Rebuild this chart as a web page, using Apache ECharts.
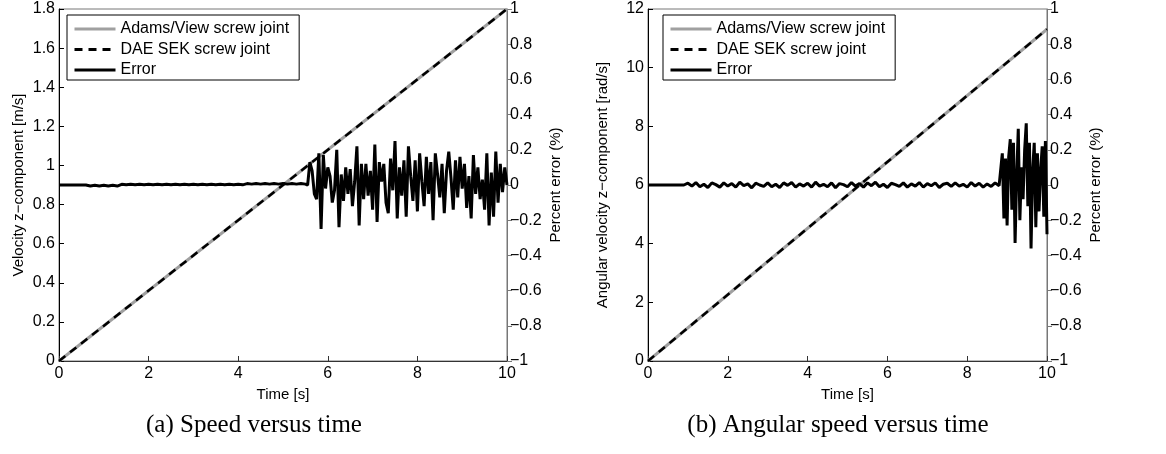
<!DOCTYPE html>
<html>
<head>
<meta charset="utf-8">
<script src="https://cdn.jsdelivr.net/npm/echarts@6/dist/echarts.min.js"></script>
<style>
  html, body { margin: 0; padding: 0; background: #fff; }
  #chart { width: 1166px; height: 454px; }
</style>
</head>
<body>
<div id="chart"></div>
<script>
// straight runs: time end points and the two simulated curves
const timeEnds = [0, 10];
const speedAdams = [0, 1.8];
const speedDae = [0, 1.8];
const angAdams = [0, 11.31];
const angDae = [0, 11.31];

// percent error, speed plot: slow part t = 0..5.5 step 0.1, fast part t = 5.55..10 step 0.05
const errSpeedSlow = [
  0, 0, 0, 0, 0, 0, 0,
  -0.006, -0.002, -0.006, -0.002, -0.006, -0.002, -0.006,
  0.004, 0.001, 0.004, 0.001, 0.004, 0.001, 0.004, 0.001, 0.004, 0.001, 0.004, 0.001, 0.004, 0.001,
  0.004, 0.001, 0.004, 0.001, 0.004, 0.001, 0.004, 0.001, 0.004, 0.001, 0.004, 0.001, 0.004, 0.001,
  0.008, 0.005, 0.008, 0.005, 0.008, 0.005, 0.008, 0.005, 0.008, 0.005, 0.008, 0.005, 0.008, 0.005
];
const errSpeedFast = [
  0.00, 0.13, 0.08, -0.05, -0.08, 0.18, -0.25, 0.17, -0.02, 0.10,
  0.05, -0.10, -0.03, 0.20, -0.24, 0.06, -0.09, 0.10, -0.05, 0.09,
  -0.12, 0.02, 0.22, -0.23, 0.12, -0.08, 0.12, -0.06, 0.08, -0.14,
  0.23, -0.21, 0.13, 0.02, 0.12, -0.10, -0.16, 0.15, -0.03, 0.25,
  -0.19, 0.10, -0.06, 0.14, -0.18, 0.22, 0.05, -0.09, 0.14, -0.15,
  0.18, 0.02, -0.12, 0.16, -0.05, 0.13, -0.20, 0.18, 0.06, -0.07,
  0.12, -0.16, 0.08, 0.19, 0.04, -0.14, 0.14, -0.07, 0.16, -0.02,
  0.12, -0.13, 0.05, -0.19, 0.17, -0.05, 0.10, -0.08, 0.03, -0.14,
  0.18, -0.23, 0.07, -0.18, 0.19, -0.10, 0.12, -0.04, 0.10, 0.00
];

// percent error, angular plot: slow part t = 0..8.8 step 0.1, fast part t = 8.84..10 step 0.04
const errAngSlow = [
  0, 0, 0, 0, 0, 0, 0, 0, 0, 0,
  0.010, -0.006, 0.014, -0.010, 0.004, -0.014, 0.012, 0.002, -0.012, 0.012,
  -0.006, 0.008, -0.012, 0.016, -0.004, 0.006, -0.016, 0.010, 0.000, -0.008,
  0.012, -0.010, 0.004, -0.014, 0.012, -0.002, 0.014, -0.012, 0.006, -0.006,
  0.010, -0.012, 0.016, -0.006, 0.004, -0.010, 0.012, -0.016, 0.008, 0.002,
  -0.010, 0.014, -0.006, 0.008, -0.012, 0.012, -0.004, 0.016, -0.010, 0.004,
  -0.014, 0.010, 0.002, -0.008, 0.012, -0.012, 0.006, -0.006, 0.014, -0.012,
  0.008, -0.004, 0.012, -0.014, 0.004, 0.010, -0.008, 0.012, -0.006, 0.004,
  -0.012, 0.014, -0.006, 0.010, -0.012, 0.006, -0.008, 0.012, -0.004
];
const errAngFast = [
  0.00, 0.18, -0.19, 0.15, -0.23, 0.16, 0.26, -0.14, 0.24, -0.33,
  0.05, 0.32, -0.20, 0.10, -0.08, 0.20, 0.35, -0.12, 0.24, -0.36,
  0.08, 0.24, -0.24, 0.18, -0.15, 0.08, 0.22, -0.18, 0.25, -0.28
];

const seriesNames = ['Adams/View screw joint', 'DAE SEK screw joint', 'Error'];

// pair a sampled run with its time grid
const seg = (t0, dt, vals) => vals.map((v, i) => [+(t0 + i * dt).toFixed(3), v]);
const pairs = (ts, vs) => ts.map((t, i) => [t, vs[i]]);

const font = 'Liberation Sans';
const tickFmt = v => String(Math.round(v * 10) / 10).replace('-', '\u2212');

const xAxisFor = (gi) => ({
  type: 'value', gridIndex: gi, min: 0, max: 10, interval: 2,
  name: 'Time [s]', nameLocation: 'middle', nameGap: 24,
  nameTextStyle: { color: '#000', fontSize: 15, fontFamily: font },
  axisLine: { lineStyle: { color: '#333', width: 1 } },
  axisTick: { inside: true, length: 5, lineStyle: { color: '#333' } },
  axisLabel: { color: '#000', fontSize: 16, fontFamily: font, margin: 5 },
  splitLine: { show: false }
});

const leftAxisFor = (gi, max, interval, name, gap) => ({
  type: 'value', gridIndex: gi, position: 'left', min: 0, max: max, interval: interval,
  name: name, nameLocation: 'middle', nameGap: gap, nameRotate: 90,
  nameTextStyle: { color: '#000', fontSize: 15, fontFamily: font },
  axisLine: { show: true, lineStyle: { color: '#000', width: 1 } },
  axisTick: { show: true, inside: true, length: 5, lineStyle: { color: '#000' } },
  axisLabel: { color: '#000', fontSize: 16, fontFamily: font, margin: 4, formatter: tickFmt },
  splitLine: { show: false }
});

const rightAxisFor = (gi) => ({
  type: 'value', gridIndex: gi, position: 'right', min: -1, max: 1, interval: 0.2,
  name: 'Percent error (%)', nameLocation: 'middle', nameGap: 41, nameRotate: 90,
  nameTextStyle: { color: '#000', fontSize: 15, fontFamily: font },
  axisLine: { show: true, lineStyle: { color: '#777', width: 1 } },
  axisTick: { show: true, inside: false, length: 5, lineStyle: { color: '#777' } },
  axisLabel: { color: '#000', fontSize: 16, fontFamily: font, margin: 3, formatter: tickFmt },
  splitLine: { show: false }
});

const lineSet = (xi, yl, yr, adams, dae, err) => [
  {
    name: seriesNames[0], type: 'line', xAxisIndex: xi, yAxisIndex: yl,
    data: adams, symbol: 'none', z: 2,
    lineStyle: { color: '#a0a0a0', width: 3 }, itemStyle: { color: '#a0a0a0' }
  },
  {
    name: seriesNames[1], type: 'line', xAxisIndex: xi, yAxisIndex: yl,
    data: dae, symbol: 'none', z: 3,
    lineStyle: { color: '#000', width: 2.5, type: [8, 6] }, itemStyle: { color: '#000' }
  },
  {
    name: seriesNames[2], type: 'line', xAxisIndex: xi, yAxisIndex: yr,
    data: err, symbol: 'none', z: 4,
    lineStyle: { color: '#000', width: 3 }, itemStyle: { color: '#000' }
  }
];

const legendAt = (left) => ({
  data: seriesNames, orient: 'vertical', left: left, top: 15,
  itemWidth: 41, itemHeight: 16, itemGap: 4.5,
  padding: [6, 10, 2, 6],
  backgroundColor: '#fff', borderColor: '#000', borderWidth: 1,
  selectedMode: false,
  itemStyle: { opacity: 0 },
  lineStyle: { width: 3 },
  textStyle: { color: '#000', fontSize: 16, fontFamily: font }
});

const chart = echarts.init(document.getElementById('chart'));
chart.setOption({
  animation: false,
  backgroundColor: '#fff',
  grid: [
    { left: 59, top: 9, width: 448, height: 352, show: true, borderColor: '#777', borderWidth: 1 },
    { left: 648, top: 9, width: 399, height: 352, show: true, borderColor: '#777', borderWidth: 1 }
  ],
  legend: [legendAt(67), legendAt(663)],
  xAxis: [xAxisFor(0), xAxisFor(1)],
  yAxis: [
    leftAxisFor(0, 1.8, 0.2, 'Velocity z\u2212component [m/s]', 33),
    rightAxisFor(0),
    leftAxisFor(1, 12, 2, 'Angular velocity z\u2212component [rad/s]', 38),
    rightAxisFor(1)
  ],
  series: [
    ...lineSet(0, 0, 1, pairs(timeEnds, speedAdams), pairs(timeEnds, speedDae),
      seg(0, 0.1, errSpeedSlow).concat(seg(5.55, 0.05, errSpeedFast))),
    ...lineSet(1, 2, 3, pairs(timeEnds, angAdams), pairs(timeEnds, angDae),
      seg(0, 0.1, errAngSlow).concat(seg(8.84, 0.04, errAngFast)))
  ],
  graphic: [
    { type: 'text', x: 254, y: 425,
      style: { text: '(a) Speed versus time', fill: '#000', align: 'center', verticalAlign: 'middle',
        font: '25px "Liberation Serif", serif' } },
    { type: 'text', x: 838, y: 425,
      style: { text: '(b) Angular speed versus time', fill: '#000', align: 'center', verticalAlign: 'middle',
        font: '25px "Liberation Serif", serif' } }
  ]
});
</script>
</body>
</html>
